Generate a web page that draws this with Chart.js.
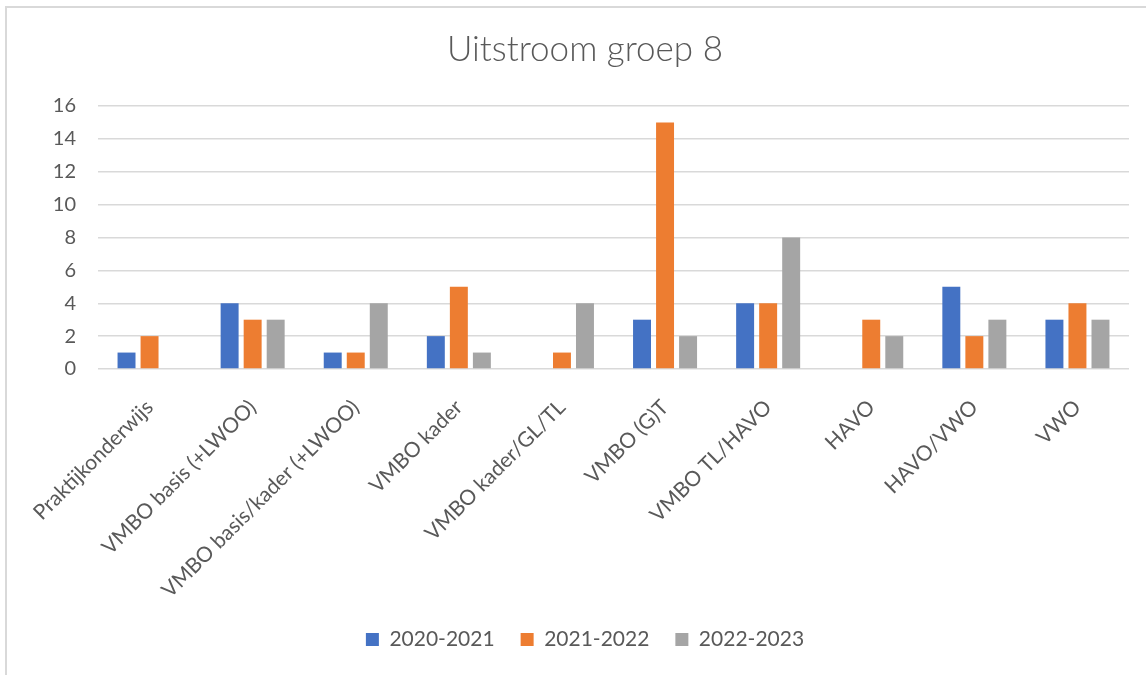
<!DOCTYPE html>
<html>
<head>
<meta charset="utf-8">
<script src="https://cdn.jsdelivr.net/npm/chart.js@4/dist/chart.umd.min.js"></script>
<style>
  html, body { margin: 0; padding: 0; background: #fff; }
  #wrap { position: relative; width: 1146px; height: 675px; overflow: hidden; }
  #frame { position: absolute; left: 5px; top: 6px; width: 1200px; height: 700px; border: 2px solid #d9d9d9; box-sizing: border-box; }
  #c { position: absolute; left: 0; top: 0; }
</style>
</head>
<body>
<div id="wrap">
  <div id="frame"></div>
  <canvas id="c" width="1170" height="675"></canvas>
</div>
<script>
const categories = ["Praktijkonderwijs", "VMBO basis (+LWOO)", "VMBO basis/kader (+LWOO)", "VMBO kader", "VMBO kader/GL/TL", "VMBO (G)T", "VMBO TL/HAVO", "HAVO", "HAVO/VWO", "VWO"];
const seriesNames = ["2020-2021", "2021-2022", "2022-2023"];
const values2020 = [1, 4, 1, 2, 0, 3, 4, 0, 5, 3];
const values2021 = [2, 3, 1, 5, 1, 15, 4, 3, 2, 4];
const values2022 = [0, 3, 4, 1, 4, 2, 8, 2, 3, 3];
const yTicks = [0, 2, 4, 6, 8, 10, 12, 14, 16];
const colors = ["#4472c4", "#ed7d31", "#a5a5a5"];

const FONT = "Lato, 'Open Sans', sans-serif";
const TXT = "#595959";

new Chart(document.getElementById('c'), {
  type: 'bar',
  data: {
    labels: categories,
    datasets: [values2020, values2021, values2022].map((v, i) => ({
      label: seriesNames[i],
      data: v,
      backgroundColor: colors[i],
      borderWidth: 0,
      categoryPercentage: 0.67,
      barPercentage: 0.78
    }))
  },
  options: {
    responsive: false,
    animation: false,
    devicePixelRatio: 1,
    layout: { padding: { left: 0, right: 0, top: 0, bottom: 15 } },
    plugins: {
      title: {
        display: true,
        text: "Uitstroom groep 8",
        color: TXT,
        font: { family: FONT, size: 35, weight: 300 },
        padding: { top: 29, bottom: 35 }
      },
      legend: {
        position: 'bottom',
        labels: {
          color: TXT,
          font: { family: FONT, size: 21 },
          boxWidth: 13,
          boxHeight: 13,
          padding: 26
        }
      },
      tooltip: { enabled: false }
    },
    scales: {
      x: {
        grid: { display: false },
        border: { display: false },
        ticks: {
          color: TXT,
          font: { family: FONT, size: 21 },
          minRotation: 45,
          maxRotation: 45,
          autoSkip: false,
          padding: 18
        },
        afterFit: (s) => { s.height = 234; }
      },
      y: {
        min: 0,
        max: 16,
        afterBuildTicks: (s) => { s.ticks = yTicks.map(v => ({ value: v })); },
        grid: { color: "#d9d9d9", lineWidth: 1.5, drawTicks: false },
        border: { display: false },
        ticks: {
          color: TXT,
          font: { family: FONT, size: 20 },
          padding: 22
        },
        afterFit: (s) => { s.width = 98; }
      },
      yRight: {
        type: 'linear',
        position: 'right',
        display: true,
        grid: { display: false, drawTicks: false },
        border: { display: false },
        ticks: { display: false },
        afterFit: (s) => { s.width = 41; }
      }
    }
  }
});
</script>
</body>
</html>
